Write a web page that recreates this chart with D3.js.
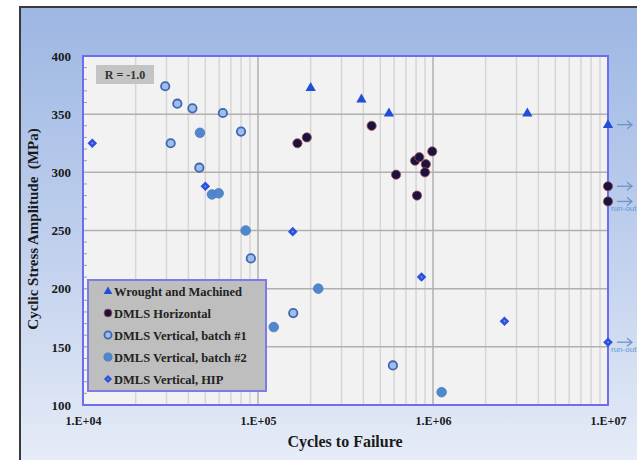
<!DOCTYPE html>
<html>
<head>
<meta charset="utf-8">
<script src="https://cdn.jsdelivr.net/npm/d3@7"></script>
<style>
  html, body { margin: 0; padding: 0; background: #ffffff; }
  svg { display: block; }
  text { font-family: "Liberation Serif", "Times New Roman", serif; font-weight: bold; }
</style>
</head>
<body>
<svg id="chart" width="637" height="460"></svg>
<script>
// S-N fatigue data, R = -1.0 (cycles to failure vs. stress amplitude in MPa)
const wroughtCycles = [2.0e5, 3.9e5, 5.6e5, 3.46e6, 1e7];
const wroughtStress = [373, 363, 351, 351, 341];

const horizCycles = [1.68e5, 1.90e5, 4.46e5, 6.15e5, 7.9e5, 8.35e5, 9.1e5, 9.0e5, 9.9e5, 8.1e5, 1e7, 1e7];
const horizStress = [325, 330, 340, 298, 310, 313, 307, 300, 318, 280, 288, 275];

const batch1Cycles = [2.95e4, 3.46e4, 4.22e4, 6.3e4, 8.0e4, 3.17e4, 4.62e4, 9.1e4, 1.59e5, 5.9e5];
const batch1Stress = [374, 359, 355, 351, 335, 325, 304, 226, 179, 134];

const batch2Cycles = [4.66e4, 5.46e4, 5.96e4, 8.5e4, 1.23e5, 2.21e5, 1.12e6];
const batch2Stress = [334, 281, 282, 250, 167, 200, 111];

const hipCycles = [1.13e4, 5.0e4, 1.58e5, 8.6e5, 2.56e6, 1e7];
const hipStress = [325, 288, 249, 210, 172, 154];

const seriesNames = ["Wrought and Machined", "DMLS Horizontal", "DMLS Vertical, batch #1", "DMLS Vertical, batch #2", "DMLS Vertical, HIP"];
const yTicks = [100, 150, 200, 250, 300, 350, 400];
const xTicks = [1e4, 1e5, 1e6, 1e7];
const xTickLabels = ["1.E+04", "1.E+05", "1.E+06", "1.E+07"];
const runoutLimit = 1e7;

const svg = d3.select("#chart");
const W = 637, H = 460;
const plot = { left: 83, top: 56, right: 608, bottom: 405 };

const x = d3.scaleLog().domain([1e4, 1e7]).range([plot.left, plot.right]);
const y = d3.scaleLinear().domain([100, 400]).range([plot.bottom, plot.top]);

// background frame with vertical blue gradient
const defs = svg.append("defs");
const grad = defs.append("linearGradient").attr("id", "frameGrad")
  .attr("x1", 0).attr("y1", 0).attr("x2", 0).attr("y2", 1);
grad.append("stop").attr("offset", "0%").attr("stop-color", "#9db7e3");
grad.append("stop").attr("offset", "55%").attr("stop-color", "#c3d2ee");
grad.append("stop").attr("offset", "100%").attr("stop-color", "#e9eef8");

svg.append("rect").attr("width", W).attr("height", H).attr("fill", "#ffffff");
svg.append("rect").attr("x", 20).attr("y", 7).attr("width", W + 10).attr("height", H + 10)
  .attr("fill", "url(#frameGrad)").attr("stroke", "#3a3a3a").attr("stroke-width", 2);

// plot area
svg.append("rect").attr("x", plot.left).attr("y", plot.top)
  .attr("width", plot.right - plot.left).attr("height", plot.bottom - plot.top)
  .attr("fill", "#f2f2f2");

// vertical log grid
const minorX = [];
for (let d = 1e4; d < 1e7; d *= 10) for (let m = 2; m <= 9; m++) minorX.push(d * m);
svg.append("g").selectAll("line").data(minorX).join("line")
  .attr("x1", d => x(d)).attr("x2", d => x(d))
  .attr("y1", plot.top).attr("y2", plot.bottom)
  .attr("stroke", "#d6d6d6").attr("stroke-width", 1.5);
svg.append("g").selectAll("line").data(xTicks.slice(1, -1)).join("line")
  .attr("x1", d => x(d)).attr("x2", d => x(d))
  .attr("y1", plot.top).attr("y2", plot.bottom)
  .attr("stroke", "#b0b0b0").attr("stroke-width", 1.5);

// horizontal grid
svg.append("g").selectAll("line").data(yTicks.slice(1, -1)).join("line")
  .attr("x1", plot.left).attr("x2", plot.right)
  .attr("y1", d => y(d)).attr("y2", d => y(d))
  .attr("stroke", "#b0b0b0").attr("stroke-width", 1.5);

// minor inward ticks on left axis
const minorY = d3.range(110, 400, 10).filter(v => v % 50 !== 0);
svg.append("g").selectAll("line").data(minorY).join("line")
  .attr("x1", plot.left).attr("x2", plot.left + 4)
  .attr("y1", d => y(d)).attr("y2", d => y(d))
  .attr("stroke", "#a0a0a0").attr("stroke-width", 1);

// plot border
svg.append("rect").attr("x", plot.left).attr("y", plot.top)
  .attr("width", plot.right - plot.left).attr("height", plot.bottom - plot.top)
  .attr("fill", "none").attr("stroke", "#6d6df0").attr("stroke-width", 2);

// axes
const yAxis = svg.append("g").attr("transform", `translate(${plot.left},0)`)
  .call(d3.axisLeft(y).tickValues(yTicks).tickSize(0).tickPadding(12).tickFormat(d3.format("d")));
yAxis.select(".domain").remove();
yAxis.selectAll("text").attr("font-size", 13).attr("fill", "#1a1a1a")
  .style("font-family", '"Liberation Serif", serif').style("font-weight", "bold");

const xAxis = svg.append("g").attr("transform", `translate(0,${plot.bottom})`)
  .call(d3.axisBottom(x).tickValues(xTicks).tickSize(0).tickPadding(11)
    .tickFormat((d, i) => xTickLabels[i]));
xAxis.select(".domain").remove();
xAxis.selectAll("text").attr("font-size", 12).attr("fill", "#1a1a1a")
  .style("font-family", '"Liberation Serif", serif').style("font-weight", "bold");

// axis titles
svg.append("text").attr("x", 345).attr("y", 447).attr("text-anchor", "middle")
  .attr("font-size", 16).attr("fill", "#1a1a1a").text("Cycles to Failure");
svg.append("text").attr("transform", "translate(38,229) rotate(-90)")
  .attr("text-anchor", "middle").attr("font-size", 15).attr("fill", "#1a1a1a")
  .attr("xml:space", "preserve").text("Cyclic Stress Amplitude  (MPa)");

// R-ratio tag
svg.append("rect").attr("x", 96).attr("y", 65).attr("width", 58).attr("height", 19).attr("fill", "#c4c4c4");
svg.append("text").attr("x", 125).attr("y", 79).attr("text-anchor", "middle")
  .attr("font-size", 12).attr("fill", "#333").text("R = -1.0");

// run-out arrows for specimens that reached the cycle limit
const allPoints = [];
const pack = (cx, cy, s) => cx.forEach((c, i) => allPoints.push({ c, s: cy[i], series: s }));
pack(wroughtCycles, wroughtStress, 0);
pack(horizCycles, horizStress, 1);
pack(batch1Cycles, batch1Stress, 2);
pack(batch2Cycles, batch2Stress, 3);
pack(hipCycles, hipStress, 4);

const runouts = allPoints.filter(p => p.c >= runoutLimit);
const arrows = svg.append("g").attr("stroke", "#6f93c8").attr("stroke-width", 1.3).attr("fill", "none");
runouts.forEach(p => {
  const px = x(p.c), py = y(p.s);
  arrows.append("line").attr("x1", px + 9).attr("x2", px + 24).attr("y1", py).attr("y2", py);
  arrows.append("path").attr("d", `M${px + 19},${py - 4} L${px + 24},${py} L${px + 19},${py + 4}`);
});
// "run-out" notes under the lowest run-outs
const runoutNotes = [[1, 275], [4, 154]];
runoutNotes.forEach(([s, v]) => {
  svg.append("text").attr("x", x(runoutLimit) + 3).attr("y", y(v) + 10)
    .attr("font-size", 8).attr("fill", "#5b9ad6").style("font-weight", "normal")
    .style("font-family", '"Liberation Sans", sans-serif').text("run-out");
});

// marker painters
function drawMarker(g, series, px, py, scale = 1) {
  if (series === 0) {
    g.append("path").attr("d", d3.symbol().type(d3.symbolTriangle).size(46 * scale * scale)())
      .attr("transform", `translate(${px},${py + 0.5})`).attr("fill", "#1f4fd8");
  } else if (series === 1) {
    g.append("circle").attr("cx", px).attr("cy", py).attr("r", 4.6 * scale)
      .attr("fill", "#1b1240").attr("stroke", "#a05050").attr("stroke-width", 0.8);
  } else if (series === 2) {
    g.append("circle").attr("cx", px).attr("cy", py).attr("r", 4.2 * scale)
      .attr("fill", "#9dbdee").attr("stroke", "#3d68ad").attr("stroke-width", 1.8);
  } else if (series === 3) {
    g.append("circle").attr("cx", px).attr("cy", py).attr("r", 4.8 * scale)
      .attr("fill", "#5088cf").attr("stroke", "#4a78bb").attr("stroke-width", 0.8);
  } else {
    const h = 4.8 * scale;
    g.append("path").attr("d", `M0,${-h}L${h},0L0,${h}L${-h},0Z`)
      .attr("transform", `translate(${px},${py})`).attr("fill", "#2c4fe0");
    g.append("circle").attr("cx", px).attr("cy", py).attr("r", 0.9 * scale).attr("fill", "#8fa2ee");
  }
}

const marks = svg.append("g");
[4, 2, 3, 1, 0].forEach(s => {
  allPoints.filter(p => p.series === s).forEach(p => drawMarker(marks, s, x(p.c), y(p.s)));
});

// legend
const legend = svg.append("g");
legend.append("rect").attr("x", 88).attr("y", 280).attr("width", 178).attr("height", 111)
  .attr("fill", "#bebebe").attr("stroke", "#7c7ce8").attr("stroke-width", 2);
seriesNames.forEach((name, i) => {
  const ly = 291 + i * 22;
  drawMarker(legend, i, 108, ly, 0.85);
  legend.append("text").attr("x", 114).attr("y", ly + 4.5)
    .attr("font-size", 12.5).attr("fill", "#222").text(name);
});
</script>
</body>
</html>
